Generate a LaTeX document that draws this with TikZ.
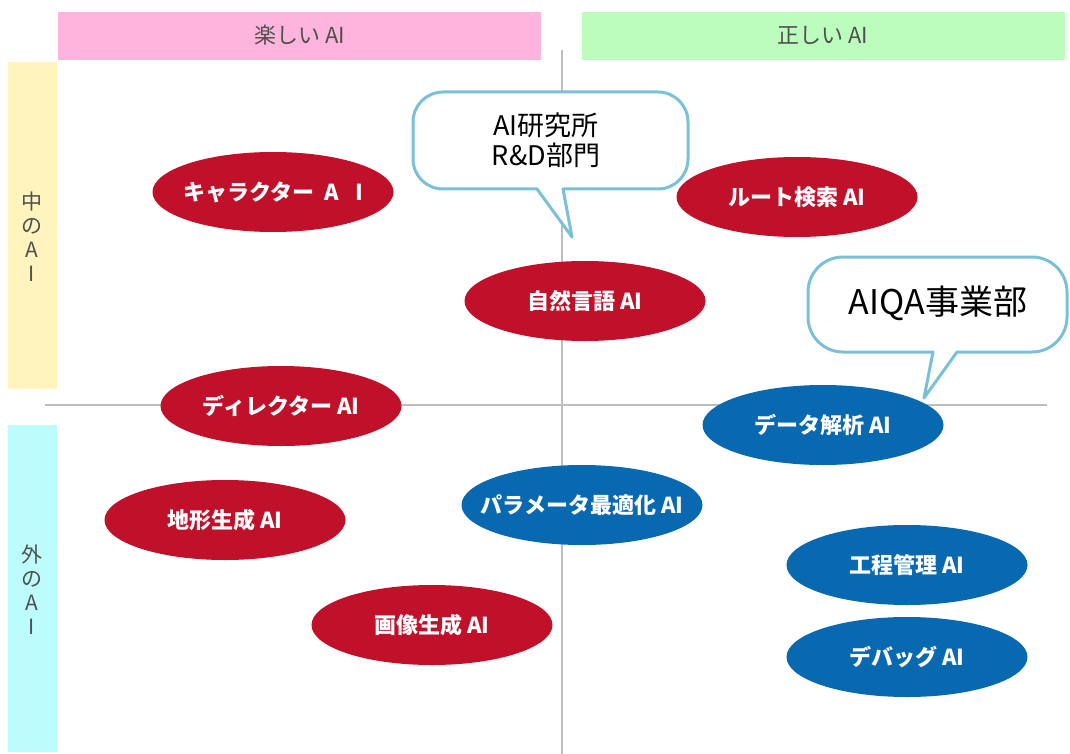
\documentclass[tikz,border=0pt]{standalone}
\usepackage{fontspec}
\setmainfont{Noto Sans CJK JP}
\usetikzlibrary{shapes.geometric}
\definecolor{aired}{RGB}{192,16,42}
\definecolor{aiblue}{RGB}{8,104,176}
\definecolor{callout}{RGB}{122,192,216}
\definecolor{barpink}{RGB}{255,180,222}
\definecolor{bargreen}{RGB}{188,252,188}
\definecolor{baryellow}{RGB}{255,244,190}
\definecolor{barcyan}{RGB}{188,252,252}
\definecolor{bartext}{RGB}{80,80,80}
\definecolor{axisgray}{RGB}{190,190,190}
\newcommand{\zw}[1]{\makebox[0pt][c]{#1}}
\tikzset{
  bar/.style={draw=none, inner sep=0pt, text=bartext, font=\fontsize{22}{26}\selectfont},
  vbar/.style={bar, align=center, font=\fontsize{21}{24}\selectfont},
  aibox/.style={ellipse, draw=none, inner sep=0pt, minimum width=241pt, minimum height=80pt,
    text=white, font=\bfseries\fontsize{22}{26}\selectfont},
  redai/.style={aibox, fill=aired},
  blueai/.style={aibox, fill=aiblue},
  axisline/.style={draw=axisgray, line width=2pt},
  bubble/.style={draw=callout, line width=3pt, fill=white, line join=round},
  bubbletext/.style={inner sep=0pt, text=black, align=center}
}
\begin{document}
\begin{tikzpicture}[x=1pt,y=-1pt]
\useasboundingbox[fill=white] (0,0) rectangle (1070,754);
% header bars
\fill[barpink] (58,12) rectangle (541,60);
\fill[bargreen] (582,12) rectangle (1065,60);
\fill[baryellow] (8,62) rectangle (57,389);
\fill[barcyan] (8,425) rectangle (57,752);
\node[bar] (fun) at (300,35) {楽しい AI};
\node[bar] (right) at (823,35) {正しい AI};
\node[vbar] (inner) at (32,237) {中\\の\\A\\I};
\node[vbar] (outer) at (32,590) {外\\の\\A\\I};
% axes
\coordinate (vtop) at (562,50);
\coordinate (vbot) at (562,754);
\coordinate (hleft) at (45,405);
\coordinate (hright) at (1047,405);
\draw[axisline] (vtop) -- (vbot);
\draw[axisline] (hleft) -- (hright);
% ellipses
\node[redai] (chara) at (273,192) {\zw{キャラクター\hspace{0.45em}A\hspace{0.75em}I}};
\node[redai] (route) at (797,197) {\zw{ルート検索 AI}};
\node[redai] (nlp) at (585,301) {\zw{自然言語 AI}};
\node[redai] (director) at (281,406) {\zw{ディレクター AI}};
\node[blueai] (data) at (823,425) {\zw{データ解析 AI}};
\node[redai] (terrain) at (225,520) {\zw{地形生成 AI}};
\node[blueai] (param) at (582,505) {\zw{パラメータ最適化 AI}};
\node[blueai] (process) at (907,565) {\zw{工程管理 AI}};
\node[redai] (image) at (432,625) {\zw{画像生成 AI}};
\node[blueai] (debug) at (907,657) {\zw{デバッグ AI}};
% callout 1
\draw[bubble] (563,189) -- (658,189) arc (90:0:30) -- (688,122) arc (0:-90:30)
  -- (443,92) arc (-90:-180:30) -- (413,159) arc (180:90:30) -- (537,189) -- (572,237) -- cycle;
\node[bubbletext, font=\fontsize{27}{30}\selectfont] (lab) at (546,140) {AI研究所\\R\&D部門};
% callout 2
\draw[bubble] (957,352) -- (1032,352) arc (90:0:35) -- (1067,292) arc (0:-90:35)
  -- (843,257) arc (-90:-180:35) -- (808,317) arc (180:90:35) -- (933,352) -- (924,398) -- cycle;
\node[bubbletext, font=\fontsize{34}{40}\selectfont] (qa) at (938,303) {AIQA事業部};
\end{tikzpicture}
\end{document}
